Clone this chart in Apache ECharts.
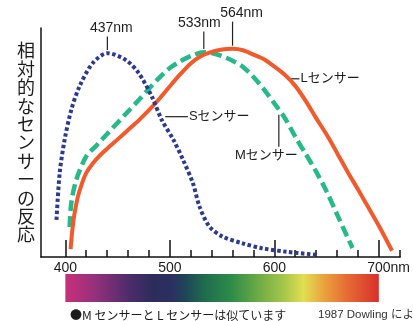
<!DOCTYPE html>
<html><head><meta charset="utf-8">
<script src="https://cdn.jsdelivr.net/npm/echarts@6/dist/echarts.min.js"></script>
<style>html,body{margin:0;padding:0;background:#fff}#c{width:413px;height:321px}</style>
</head><body><div id="c"></div>
<script>
// ---- data (wavelength nm, relative response) ----
const sNm  = [391.5, 394.6, 399.3, 405.7, 413.5, 426.1, 440.2, 457.6, 470.2, 482.7, 492.2, 503.4, 512.7, 522.1, 528.4, 537.9, 550.5, 569.4, 588.2, 611.8, 641.7];
const sVal = [0.178, 0.404, 0.563, 0.707, 0.819, 0.931, 0.979, 0.947, 0.883, 0.771, 0.659, 0.563, 0.466, 0.354, 0.242, 0.146, 0.098, 0.066, 0.042, 0.025, 0.010];
const mNm  = [404.1, 405.7, 410.4, 420, 430, 440, 450, 460, 470, 480, 490, 500, 510, 520, 532.5, 540, 550, 560, 570, 580, 590, 600, 610, 620, 630, 640, 650, 660, 670, 674.8];
const mVal = [0.144, 0.260, 0.370, 0.483, 0.537, 0.591, 0.645, 0.699, 0.753, 0.808, 0.862, 0.908, 0.940, 0.965, 0.984, 0.980, 0.965, 0.943, 0.913, 0.865, 0.805, 0.738, 0.668, 0.578, 0.495, 0.410, 0.315, 0.205, 0.095, 0.043];
const lNm  = [405, 406.5, 408.5, 412, 416, 420, 426, 432, 440, 450, 460, 470, 480, 490, 500, 510, 520, 530, 540, 550, 560, 570, 580, 590, 600, 610, 620, 630, 640, 650, 660, 670, 680, 690, 700, 712.6];
const lVal = [0.038, 0.120, 0.200, 0.290, 0.355, 0.404, 0.448, 0.482, 0.520, 0.565, 0.610, 0.655, 0.705, 0.760, 0.820, 0.878, 0.930, 0.965, 0.985, 0.997, 1.000, 0.993, 0.972, 0.950, 0.915, 0.875, 0.822, 0.750, 0.667, 0.588, 0.500, 0.410, 0.325, 0.238, 0.150, 0.030];

const majorTicks = [400, 500, 600, 700];
const minorTicks = [420, 440, 460, 480, 520, 540, 560, 580, 620, 640, 660, 680, 720];
const yName = '相対的なセンサーの反応';
const peakTexts = ['437nm', '533nm', '564nm'];
const peakLeaderTop = [1.059, 1.083, 1.131];
const sensorNames = ['Sセンサー', 'Mセンサー', 'Lセンサー'];
// leader segments in data coords: [x1, y1, x2, y2]
const sensorLeaders = [[495.6, 0.674, 517.3, 0.674], [604.3, 0.683, 604.3, 0.530], [614.9, 0.856, 624.0, 0.856]];
const spectrumStops = [[400,'#c8307c'],[428,'#96307c'],[462,'#4a2c6a'],[484,'#2c2c5c'],[502,'#2a3060'],[515,'#1e4658'],[532,'#1f6a4e'],[559,'#2e8c48'],[584,'#6aab44'],[610,'#a8c84a'],[628,'#e2df50'],[648,'#eba03e'],[670,'#e66a34'],[700,'#d9302c']];
const noteText = '●M センサーと L センサーは似ています';
const creditText = '1987 Dowling による';

const FONT = "'Liberation Sans', 'Noto Sans CJK JP', sans-serif";
const CJK = "'Noto Sans CJK JP', sans-serif";
const TXT = '#1c1c1c';
const zip = (a, b) => a.map((v, i) => [v, b[i]]);

const chart = echarts.init(document.getElementById('c'), null, {renderer: 'canvas'});
const option = {
  animation: false,
  backgroundColor: '#fff',
  grid: {left: 41, right: 8, top: 28, bottom: 64, containLabel: false},
  xAxis: [{
    type: 'value', min: 376.7, max: 720.4, position: 'bottom',
    axisLine: {show: true, lineStyle: {color: '#111', width: 1.5}},
    axisTick: {show: true, inside: true, length: 7, customValues: minorTicks, lineStyle: {color: '#111', width: 1.5}},
    axisLabel: {show: true, customValues: majorTicks, margin: 4, fontSize: 14, fontFamily: FONT, color: TXT,
      formatter: v => v === 700 ? '{s| }700nm' : String(v),
      rich: {s: {width: 19.5}}},
    splitLine: {show: false}
  }, {
    type: 'value', min: 376.7, max: 720.4, position: 'bottom',
    axisLine: {show: false},
    axisTick: {show: true, inside: true, length: 17, customValues: majorTicks, lineStyle: {color: '#111', width: 1.5}},
    axisLabel: {show: false},
    splitLine: {show: false}
  }],
  yAxis: {
    type: 'value', min: 0, max: 1.1,
    axisLine: {show: true, lineStyle: {color: '#111', width: 1.5}},
    axisTick: {show: false}, axisLabel: {show: false}, splitLine: {show: false},
    name: yName.split('').join('\n'), nameLocation: 'middle', nameRotate: 0, nameGap: 6,
    nameTextStyle: {fontSize: 18, lineHeight: 18.4, fontFamily: CJK, color: TXT}
  },
  series: [
    {name: 'M', type: 'line', data: zip(mNm, mVal), showSymbol: false, smooth: 0.3,
      lineStyle: {color: '#27b98a', width: 4.5, type: [11, 5]}},
    {name: 'L', type: 'line', data: zip(lNm, lVal), showSymbol: false, smooth: 0.3,
      lineStyle: {color: '#f15a2a', width: 4}},
    {name: 'S', type: 'line', data: zip(sNm, sVal), showSymbol: false, smooth: 0.3,
      lineStyle: {color: '#2e3a8f', width: 4, type: [3.5, 2.5]}}
  ]
};
chart.setOption(option);

const P = (x, y) => chart.convertToPixel({gridIndex: 0}, [x, y]);
const gfx = [];
const peakDx = [4, -4.5, 9];
[[sNm, sVal], [mNm, mVal], [lNm, lVal]].forEach(([xs, ys], i) => {
  const k = ys.indexOf(Math.max(...ys));
  const b = P(xs[k], ys[k] + 0.015), t = P(xs[k], peakLeaderTop[i]);
  gfx.push({type: 'line', shape: {x1: b[0], y1: b[1], x2: t[0], y2: t[1]}, style: {stroke: '#222', lineWidth: 1.2}});
  gfx.push({type: 'text', x: t[0] + peakDx[i], y: t[1] - 1,
    style: {text: peakTexts[i], align: 'center', verticalAlign: 'bottom', fontSize: 14, fontFamily: FONT, fill: TXT}});
});
sensorLeaders.forEach((s, i) => {
  const a = P(s[0], s[1]), b = P(s[2], s[3]);
  gfx.push({type: 'line', shape: {x1: a[0], y1: a[1], x2: b[0], y2: b[1]}, style: {stroke: '#222', lineWidth: 1.2}});
  const vertical = Math.abs(a[0] - b[0]) < 0.5;
  gfx.push({type: 'text', x: vertical ? b[0] - 12.5 : b[0] + 1, y: vertical ? b[1] + 2 : b[1],
    style: {text: sensorNames[i], align: vertical ? 'center' : 'left', verticalAlign: vertical ? 'top' : 'middle',
      fontSize: 13, fontFamily: FONT, fill: TXT}});
});
// spectrum bar under the axis
const p400 = P(spectrumStops[0][0], 0), p700 = P(spectrumStops[spectrumStops.length - 1][0], 0);
const span = spectrumStops[spectrumStops.length - 1][0] - spectrumStops[0][0];
gfx.push({type: 'rect', shape: {x: p400[0], y: p400[1] + 17, width: p700[0] - p400[0], height: 28},
  style: {fill: new echarts.graphic.LinearGradient(0, 0, 1, 0,
    spectrumStops.map(([nm, c]) => ({offset: (nm - spectrumStops[0][0]) / span, color: c})))}});
gfx.push({type: 'text', x: 70, y: 315, style: {text: noteText, verticalAlign: 'middle', fontSize: 12, fontFamily: CJK, fill: TXT}});
gfx.push({type: 'text', x: 318, y: 315, style: {text: creditText, verticalAlign: 'middle', fontSize: 11.5, fontFamily: FONT, fill: '#333'}});
chart.setOption({graphic: gfx});
</script>
</body></html>
